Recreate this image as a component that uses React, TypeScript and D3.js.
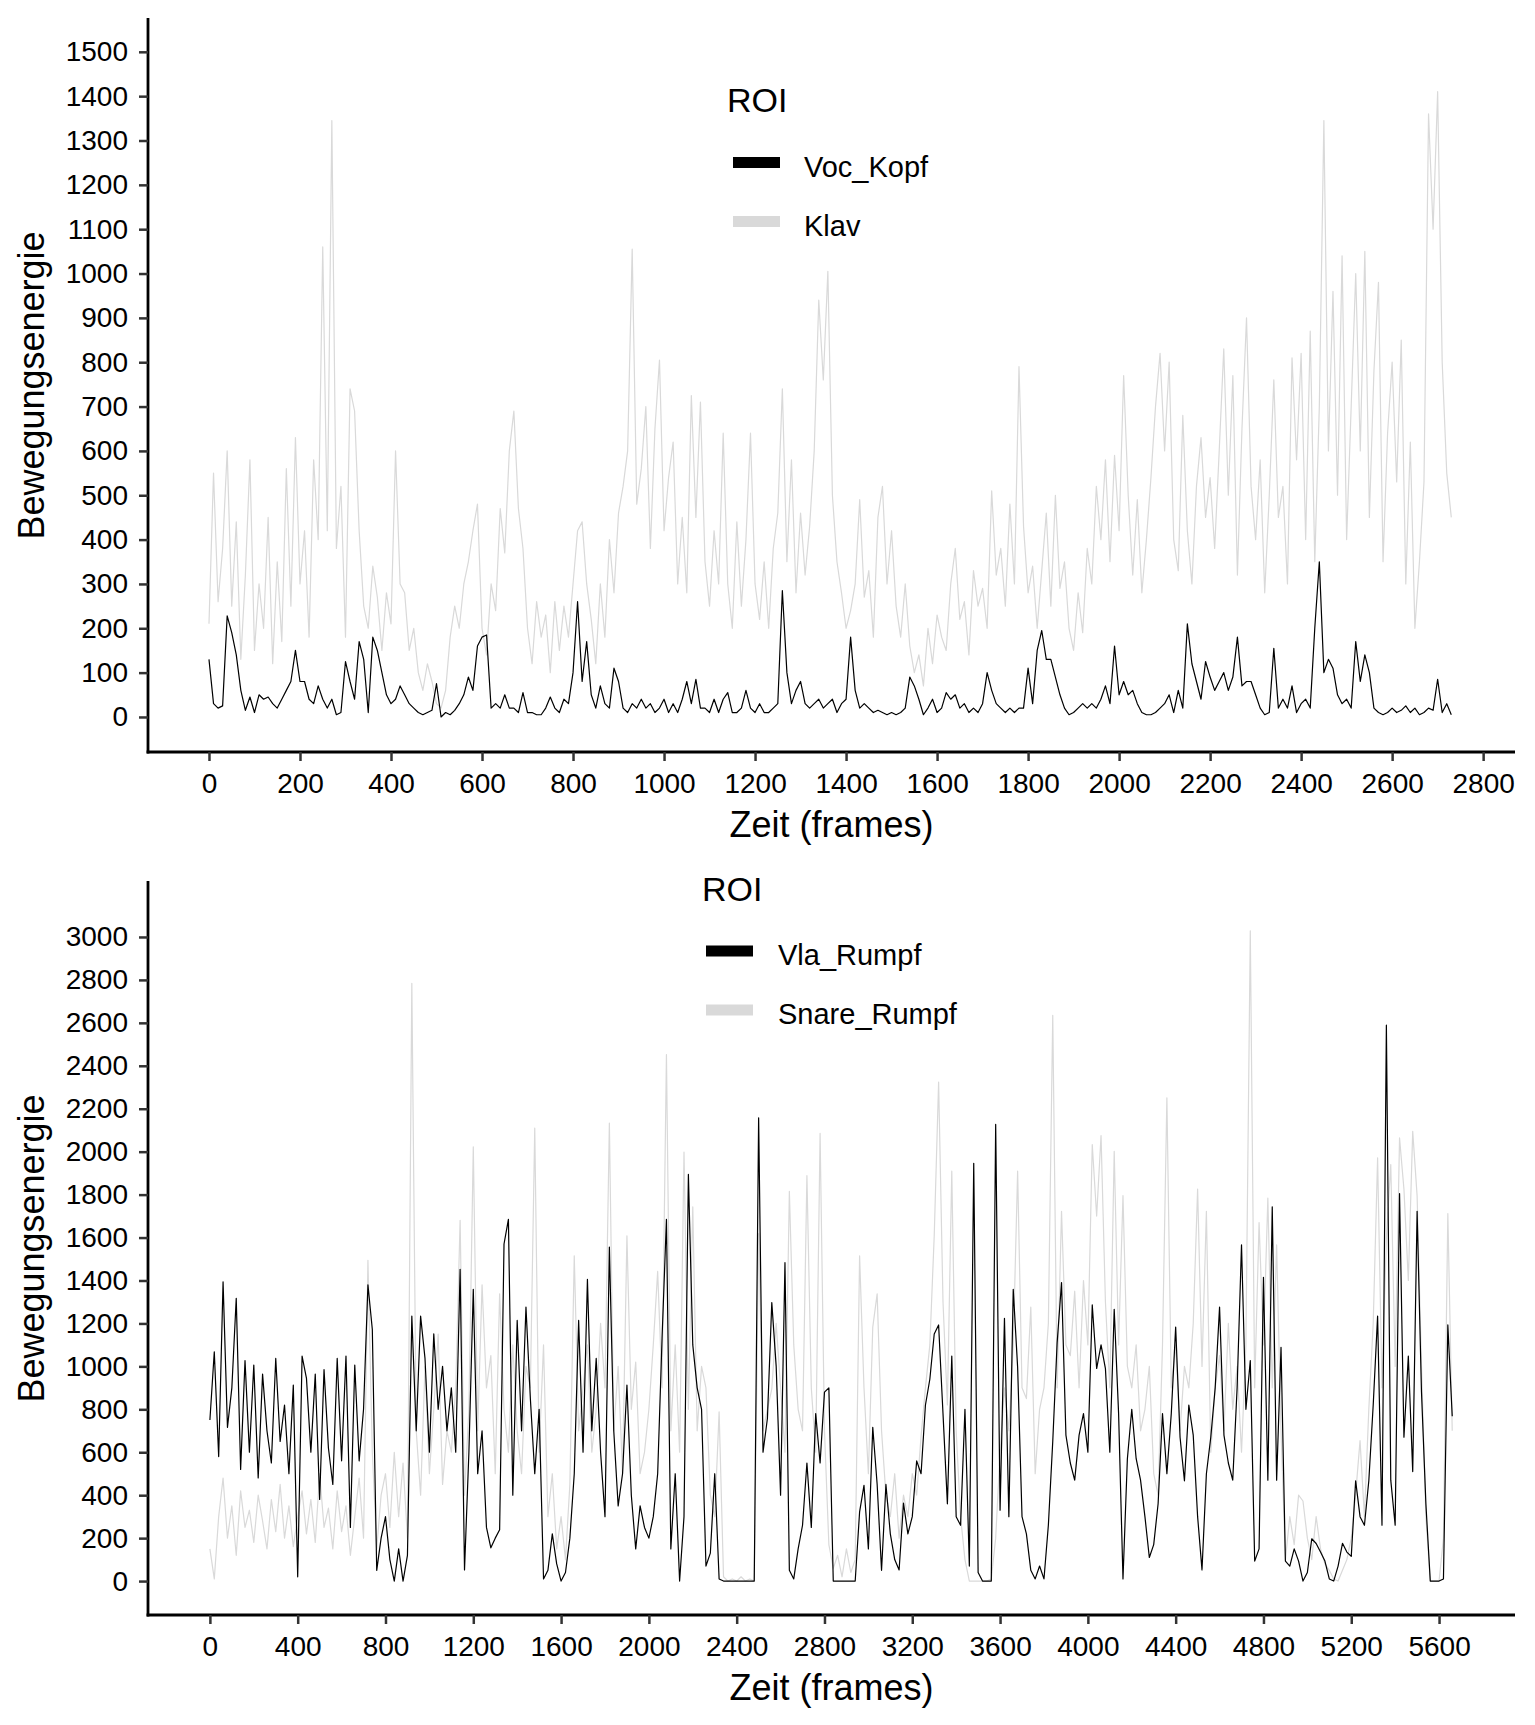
import { useEffect, useRef } from "react";
import * as d3 from "d3";

const WIDTH = 1535;
const HEIGHT = 1725;
const FONT = "'Liberation Sans', Arial, Helvetica, sans-serif";

// ---- top panel: one value every 10 frames ----
const topStep = 10;

const vocKopf = [
  130, 30, 20, 25, 228, 190, 140, 60, 15, 45,
  10, 50, 40, 45, 30, 20, 40, 60, 80, 150,
  80, 80, 40, 30, 70, 40, 20, 40, 5, 10,
  125, 80, 40, 170, 130, 10, 180, 150, 100, 50,
  30, 40, 70, 50, 30, 20, 10, 5, 10, 15,
  75, 0, 10, 5, 15, 30, 50, 90, 60, 160,
  180, 185, 20, 30, 20, 50, 20, 20, 10, 55,
  10, 10, 5, 5, 20, 45, 20, 10, 40, 30,
  100, 260, 80, 170, 50, 20, 70, 30, 20, 110,
  80, 20, 10, 30, 20, 40, 20, 30, 10, 20,
  40, 10, 30, 10, 40, 80, 30, 85, 20, 20,
  10, 40, 10, 40, 55, 10, 10, 20, 60, 20,
  10, 30, 10, 10, 20, 30, 285, 100, 30, 60,
  80, 30, 20, 30, 40, 20, 30, 40, 10, 30,
  40, 180, 60, 20, 30, 20, 10, 15, 10, 5,
  10, 5, 10, 20, 90, 70, 40, 5, 20, 40,
  10, 20, 55, 40, 50, 20, 30, 10, 20, 10,
  30, 100, 60, 30, 20, 10, 20, 10, 20, 20,
  110, 30, 150, 195, 130, 130, 90, 50, 20, 5,
  10, 20, 30, 20, 30, 20, 40, 70, 30, 160,
  50, 80, 50, 60, 30, 10, 5, 5, 10, 20,
  30, 50, 10, 60, 20, 210, 120, 80, 40, 125,
  90, 60, 80, 100, 60, 90, 180, 70, 80, 80,
  50, 20, 5, 10, 155, 20, 40, 20, 70, 10,
  30, 40, 20, 200, 350, 100, 130, 110, 50, 30,
  40, 20, 170, 80, 140, 100, 20, 10, 5, 10,
  20, 10, 15, 25, 10, 20, 5, 10, 20, 15,
  85, 10, 30, 5,
];

const klav = [
  210, 550, 260, 380, 600, 250, 440, 130, 320, 580,
  150, 300, 200, 450, 120, 350, 170, 560, 250, 630,
  300, 420, 180, 580, 400, 1060, 420, 1345, 380, 520,
  180, 740, 690, 420, 250, 200, 340, 270, 150, 280,
  210, 600, 300, 280, 150, 200, 100, 60, 120, 80,
  30, 20, 60, 180, 250, 200, 300, 350, 420, 480,
  200, 140, 300, 240, 470, 370, 600, 690, 470, 380,
  200, 120, 260, 180, 230, 100, 260, 150, 250, 180,
  300, 420, 440, 300, 220, 120, 300, 180, 400, 280,
  460, 520, 600, 1055, 480, 560, 700, 380, 650, 805,
  420, 540, 620, 300, 450, 280, 725, 450, 710, 350,
  250, 420, 300, 640, 300, 200, 440, 250, 400, 640,
  300, 220, 350, 200, 380, 460, 740, 350, 580, 280,
  460, 320, 430, 600, 940, 760, 1005, 500, 350, 280,
  200, 240, 300, 490, 270, 330, 180, 450, 520, 300,
  420, 250, 180, 300, 160, 100, 140, 70, 200, 120,
  230, 180, 150, 300, 380, 220, 260, 140, 330, 250,
  290, 200, 510, 320, 380, 250, 480, 300, 790, 430,
  280, 340, 200, 330, 460, 250, 500, 290, 350, 200,
  150, 280, 190, 380, 300, 520, 400, 580, 350, 590,
  420, 770, 500, 320, 490, 280, 400, 540, 700, 820,
  600, 800, 400, 330, 680, 420, 300, 520, 630, 450,
  540, 380, 600, 830, 500, 770, 320, 650, 900, 520,
  400, 580, 280, 500, 760, 450, 520, 300, 810, 580,
  820, 400, 870, 350, 700, 1345, 600, 960, 500, 1040,
  400, 700, 1000, 600, 1050, 450, 780, 980, 350, 640,
  800, 530, 850, 300, 620, 200, 350, 530, 1360, 1100,
  1410, 800, 550, 450,
];

// ---- bottom panel: one value every 20 frames ----
const bottomStep = 20;

const vlaRumpf = [
  750, 1068, 580, 1394, 716, 900, 1317, 520, 1027, 600,
  1006, 480, 964, 700, 550, 1037, 650, 820, 500, 913,
  20, 1048, 944, 600, 964, 380, 985, 620, 450, 1037,
  560, 1048, 250, 1006, 560, 800, 1380, 1172, 50, 200,
  300, 100, 0, 150, 0, 120, 1234, 700, 1234, 1037,
  600, 1151, 800, 1000, 700, 900, 600, 1452, 52, 600,
  1359, 500, 700, 250, 155, 200, 239, 1570, 1685, 400,
  1214, 700, 1276, 850, 500, 800, 10, 50, 220, 80,
  0, 40, 200, 500, 1214, 600, 1405, 700, 1037, 600,
  300, 1556, 700, 350, 500, 913, 400, 150, 350, 250,
  200, 300, 500, 1131, 1685, 150, 500, 0, 300, 1894,
  1100, 900, 800, 70, 130, 500, 10, 0, 0, 0,
  0, 0, 0, 0, 0, 2158, 600, 757, 1297, 1000,
  400, 1483, 50, 10, 150, 260, 550, 250, 780, 550,
  880, 900, 0, 0, 0, 0, 0, 0, 322, 446,
  150, 716, 450, 50, 450, 220, 100, 52, 363, 220,
  300, 560, 500, 820, 940, 1151, 1193, 780, 360, 1048,
  300, 260, 800, 70, 1946, 40, 0, 0, 0, 2127,
  330, 1224, 300, 1359, 996, 300, 220, 50, 10, 70,
  10, 260, 650, 1110, 1390, 680, 550, 470, 680, 780,
  600, 1286, 990, 1100, 990, 600, 1266, 780, 10, 570,
  800, 570, 470, 300, 110, 170, 360, 780, 500, 780,
  1183, 670, 467, 820, 680, 300, 52, 500, 670, 900,
  1276, 680, 550, 470, 900, 1566, 800, 1027, 93, 150,
  1415, 470, 1743, 470, 1089, 93, 70, 150, 93, 0,
  40, 197, 175, 135, 93, 10, 0, 70, 176, 135,
  115, 467, 300, 260, 467, 820, 1234, 260, 2589, 470,
  260, 1805, 670, 1048, 510, 1722, 880, 360, 0, 0,
  0, 10, 1193, 768,
];

const snareRumpf = [
  150, 10, 300, 480, 200, 350, 120, 420, 250, 330,
  180, 400, 280, 150, 380, 230, 450, 200, 350, 160,
  300, 420, 220, 380, 180, 500, 250, 340, 150, 420,
  230, 350, 120, 300, 480, 200, 1494, 600, 150, 400,
  500, 250, 600, 300, 550, 200, 2784, 700, 400, 1000,
  500, 800, 1150, 450, 700, 600, 900, 1680, 400, 800,
  2023, 700, 1380, 900, 1050, 500, 1338, 800, 600, 1100,
  700, 500, 1000, 900, 2110, 600, 1100, 300, 500, 150,
  300, 100, 450, 1515, 700, 900, 1100, 600, 800, 1200,
  900, 2133, 700, 1000, 500, 1608, 800, 1020, 500, 600,
  800, 1100, 1442, 900, 2452, 700, 1100, 600, 1998, 800,
  1743, 700, 1000, 900, 400, 300, 788, 20, 0, 10,
  0, 20, 0, 10, 0, 1618, 700, 800, 895, 1200,
  900, 600, 1815, 1100, 800, 700, 1888, 900, 600, 2085,
  700, 170, 60, 120, 20, 150, 40, 100, 1515, 900,
  500, 1183, 1338, 700, 400, 300, 500, 200, 400, 300,
  500, 400, 674, 900, 1100, 1608, 2324, 1300, 820, 1909,
  700, 300, 100, 0, 0, 0, 0, 0, 10, 200,
  600, 900, 700, 1100, 1909, 900, 850, 1276, 500, 800,
  900, 1200, 2635, 900, 1722, 1100, 1050, 1350, 900, 1400,
  1100, 2033, 1700, 2075, 1300, 900, 2002, 1100, 1795, 1000,
  900, 1100, 700, 800, 1000, 500, 400, 1100, 2251, 900,
  1100, 700, 1000, 900, 1200, 1826, 1000, 1722, 600, 900,
  1050, 700, 1200, 800, 1000, 600, 1100, 3029, 900, 1670,
  1100, 1784, 900, 1566, 700, 100, 300, 170, 400, 373,
  200, 100, 300, 150, 80, 50, 10, 0, 50, 100,
  200, 405, 654, 300, 800, 1200, 1971, 900, 1600, 1940,
  1000, 2064, 1826, 1400, 2095, 1795, 1000, 300, 0, 0,
  0, 200, 1712, 700,
];

const topXTicks = [0, 200, 400, 600, 800, 1000, 1200, 1400, 1600, 1800, 2000, 2200, 2400, 2600, 2800];
const topYTicks = [0, 100, 200, 300, 400, 500, 600, 700, 800, 900, 1000, 1100, 1200, 1300, 1400, 1500];
const bottomXTicks = [0, 400, 800, 1200, 1600, 2000, 2400, 2800, 3200, 3600, 4000, 4400, 4800, 5200, 5600];
const bottomYTicks = [0, 200, 400, 600, 800, 1000, 1200, 1400, 1600, 1800, 2000, 2200, 2400, 2600, 2800, 3000];

const xLabel = "Zeit (frames)";
const yLabel = "Bewegungsenergie";
const legendTitle = "ROI";

const BLACK = "#000000";
const GREY = "#d9d9d9";

interface Series {
  name: string;
  values: number[];
  color: string;
}

interface Panel {
  offset: number;
  step: number;
  xDomain: [number, number];
  yDomain: [number, number];
  xTicks: number[];
  yTicks: number[];
  back: Series;
  front: Series;
  legend: { x: number; titleY: number; keyX: number; labelX: number; rows: number[] };
}

const panels: Panel[] = [
  {
    offset: 0,
    step: topStep,
    xDomain: [-134, 2870],
    yDomain: [-79, 1574],
    xTicks: topXTicks,
    yTicks: topYTicks,
    back: { name: "Klav", values: klav, color: GREY },
    front: { name: "Voc_Kopf", values: vocKopf, color: BLACK },
    legend: { x: 727, titleY: 112, keyX: 733, labelX: 804, rows: [162.5, 221.5] },
  },
  {
    offset: 863,
    step: bottomStep,
    xDomain: [-282, 5946],
    yDomain: [-158, 3256],
    xTicks: bottomXTicks,
    yTicks: bottomYTicks,
    back: { name: "Snare_Rumpf", values: snareRumpf, color: GREY },
    front: { name: "Vla_Rumpf", values: vlaRumpf, color: BLACK },
    legend: { x: 702, titleY: 901, keyX: 706, labelX: 778, rows: [951, 1010] },
  },
];

// panel box in page pixels (top panel; bottom one is shifted by offset)
const LEFT = 148;
const RIGHT = 1515;
const TOP = 19;
const BOTTOM = 752;

export default function App() {
  const svgRef = useRef<SVGSVGElement>(null);

  useEffect(() => {
    if (!svgRef.current) return;
    const svg = d3.select(svgRef.current);
    svg.selectAll("*").remove();

    svg.append("rect").attr("width", WIDTH).attr("height", HEIGHT).attr("fill", "#ffffff");

    const fmt = d3.format("d");

    panels.forEach((p) => {
      const g = svg.append("g").attr("transform", `translate(0,${p.offset})`);

      const x = d3.scaleLinear().domain(p.xDomain).range([LEFT, RIGHT]);
      const y = d3.scaleLinear().domain(p.yDomain).range([BOTTOM, TOP]);

      const line = d3
        .line<number>()
        .x((_, i) => x(i * p.step))
        .y((d) => y(d));

      // Lines: grey series underneath, black on top
      [p.back, p.front].forEach((s) => {
        g.append("path")
          .datum(s.values)
          .attr("fill", "none")
          .attr("stroke", s.color)
          .attr("stroke-width", 1.2)
          .attr("stroke-linejoin", "round")
          .attr("d", line);
      });

      // Y axis
      const yAxis = g
        .append("g")
        .attr("transform", `translate(${LEFT},0)`)
        .call(
          d3.axisLeft(y).tickValues(p.yTicks).tickSize(9).tickSizeOuter(0).tickPadding(11).tickFormat((d) => fmt(d as number))
        );

      // X axis
      const xAxis = g
        .append("g")
        .attr("transform", `translate(0,${BOTTOM})`)
        .call(
          d3.axisBottom(x).tickValues(p.xTicks).tickSize(9).tickSizeOuter(0).tickPadding(12).tickFormat((d) => fmt(d as number))
        );

      [yAxis, xAxis].forEach((ax) => {
        ax.select(".domain").attr("stroke", BLACK).attr("stroke-width", 2.8);
        ax.selectAll(".tick line").attr("stroke", "#333333").attr("stroke-width", 2.5);
        ax.selectAll(".tick text")
          .attr("fill", BLACK)
          .style("font-family", FONT)
          .style("font-size", "28px");
      });
      yAxis.select(".domain").attr("d", `M0,${TOP - 1}V${BOTTOM + 1.4}`);
      xAxis.select(".domain").attr("d", `M${LEFT - 1.4},0H${RIGHT}`);

      // Axis titles
      g.append("text")
        .attr("x", (LEFT + RIGHT) / 2)
        .attr("y", 837)
        .attr("text-anchor", "middle")
        .style("font-family", FONT)
        .style("font-size", "36px")
        .text(xLabel);

      g.append("text")
        .attr("transform", `translate(44,${(TOP + BOTTOM) / 2}) rotate(-90)`)
        .attr("text-anchor", "middle")
        .style("font-family", FONT)
        .style("font-size", "36px")
        .text(yLabel);

      // Legend
      const lg = svg.append("g");
      lg.append("text")
        .attr("x", p.legend.x)
        .attr("y", p.legend.titleY)
        .style("font-family", FONT)
        .style("font-size", "34px")
        .text(legendTitle);

      [p.front, p.back].forEach((s, i) => {
        const cy = p.legend.rows[i];
        lg.append("rect")
          .attr("x", p.legend.keyX)
          .attr("y", cy - 5.5)
          .attr("width", 47)
          .attr("height", 11)
          .attr("fill", s.color);
        lg.append("text")
          .attr("x", p.legend.labelX)
          .attr("y", cy + 14)
          .style("font-family", FONT)
          .style("font-size", "29px")
          .text(s.name);
      });
    });
  }, []);

  return (
    <div style={{ position: "absolute", left: 0, top: 0 }}>
      <svg ref={svgRef} width={WIDTH} height={HEIGHT} style={{ display: "block" }} />
    </div>
  );
}
